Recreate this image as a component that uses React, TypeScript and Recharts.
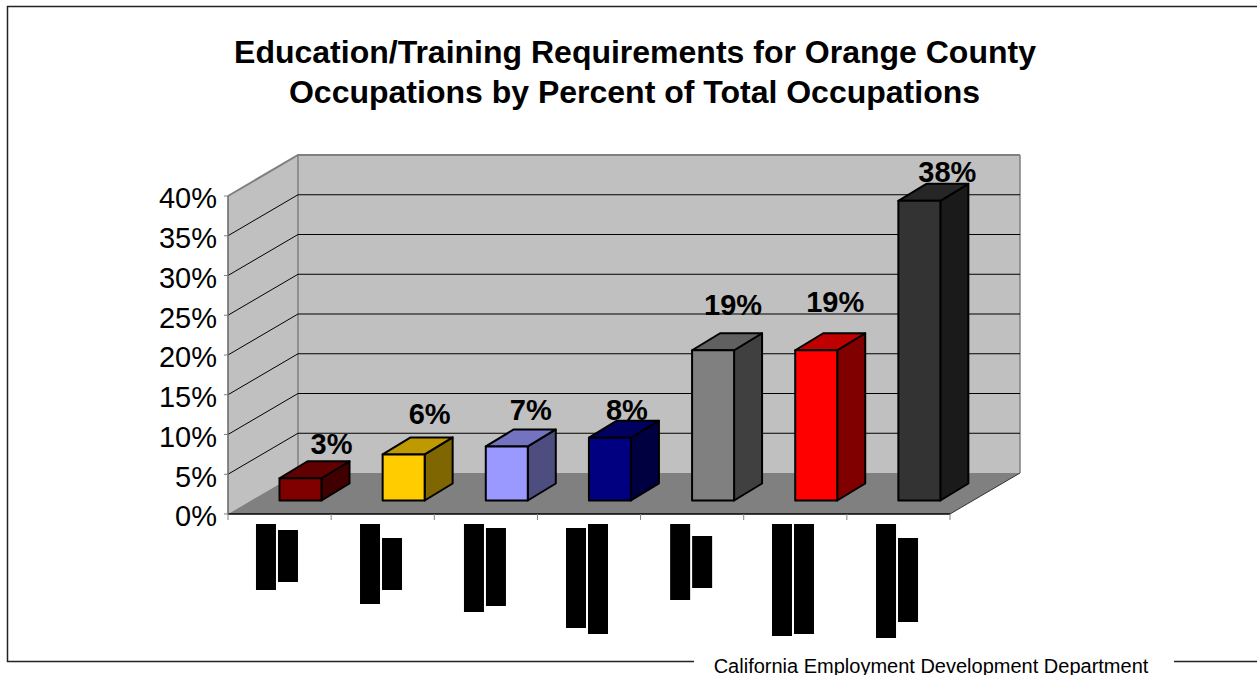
import { Bar, BarChart, CartesianGrid, LabelList, XAxis, YAxis } from 'recharts';

// garbled category labels in the source render as two black blocks each
const categories = ['c1', 'c2', 'c3', 'c4', 'c5', 'c6', 'c7'];
const percents = [2.8, 5.8, 6.8, 7.9, 18.9, 18.9, 37.7];
const yTicks = [0, 5, 10, 15, 20, 25, 30, 35, 40];

const blockA = [[10, 76], [10, 90], [10, 98], [14, 114], [10, 86], [10, 122], [10, 124]];
const blockB = [[16, 68], [24, 76], [14, 92], [10, 120], [22, 74], [10, 120], [24, 108]];
const blockLeft = [-23.6, -22.7, -21.9, -23, -22, -23.3, -22.4];

const frontColors = ['#800000', '#ffcc00', '#9999ff', '#000080', '#808080', '#ff0000', '#333333'];
const topColors = ['#600000', '#bf9900', '#7373bf', '#000060', '#606060', '#bf0000', '#262626'];
const sideColors = ['#400000', '#806600', '#4d4d80', '#000040', '#404040', '#800000', '#1a1a1a'];

// where each value label sits relative to the bar's front face
const labelNudge = [[31, -24], [26, -30], [24, -26], [17, -18], [20, -35], [19, -38], [28, -19]];

const data = categories.map((name, i) => ({ name, pct: percents[i] }));

const FONT = 'Arial, "Liberation Sans", sans-serif';
const PLOT_LEFT = 228;
const PLOT_RIGHT = 950;
const PLOT_TOP = 196;
const PLOT_BOTTOM = 514;
const WALL_DX = 70;
const WALL_DY = 41;
const BAND = (PLOT_RIGHT - PLOT_LEFT) / categories.length;
const BAR_DX = 20.5;
const BAR_DY = -13.5;
const DEPTH_X = 28;
const DEPTH_Y = 17;

function Box3D(props: any) {
  const { x, y, width, height, index } = props;
  const l = x + BAR_DX;
  const r = l + width;
  const t = y + BAR_DY;
  const b = t + height;
  return (
    <g stroke="#000" strokeWidth={2} strokeLinejoin="round">
      <polygon
        points={`${r},${t} ${r + DEPTH_X},${t - DEPTH_Y} ${r + DEPTH_X},${b - DEPTH_Y} ${r},${b}`}
        fill={sideColors[index]}
      />
      <polygon
        points={`${l},${t} ${l + DEPTH_X},${t - DEPTH_Y} ${r + DEPTH_X},${t - DEPTH_Y} ${r},${t}`}
        fill={topColors[index]}
      />
      <rect x={l} y={t} width={width} height={height} fill={frontColors[index]} />
    </g>
  );
}

function ValueLabel(props: any) {
  const { x, y, width, value, index } = props;
  const [dx, dy] = labelNudge[index];
  return (
    <text
      x={x + width / 2 + BAR_DX + dx}
      y={y + BAR_DY + dy}
      textAnchor="middle"
      fontFamily={FONT}
      fontWeight="bold"
      fontSize={29}
      fill="#000"
    >
      {Math.round(value)}%
    </text>
  );
}

function CategoryTick(props: any) {
  const { x, y, index } = props;
  const left = x + blockLeft[index];
  const [aStart, aEnd] = blockA[index];
  const [bStart, bEnd] = blockB[index];
  const tickX = x - BAND / 2;
  return (
    <g>
      <line x1={tickX} x2={tickX} y1={y} y2={y + 6} stroke="#808080" />
      {index === categories.length - 1 && (
        <line x1={tickX + BAND} x2={tickX + BAND} y1={y} y2={y + 6} stroke="#808080" />
      )}
      <rect x={left} y={y + aStart} width={20} height={aEnd - aStart} fill="#000" />
      <rect x={left + 22} y={y + bStart} width={20} height={bEnd - bStart} fill="#000" />
    </g>
  );
}

function Backdrop() {
  const backTop = PLOT_TOP - WALL_DY;
  const backBottom = PLOT_BOTTOM - WALL_DY;
  const backLeft = PLOT_LEFT + WALL_DX;
  const backRight = PLOT_RIGHT + WALL_DX;
  return (
    <g>
      <polygon
        points={`${PLOT_LEFT},${PLOT_TOP} ${backLeft},${backTop} ${backLeft},${backBottom} ${PLOT_LEFT},${PLOT_BOTTOM}`}
        fill="#c0c0c0"
      />
      <rect x={backLeft} y={backTop} width={backRight - backLeft} height={backBottom - backTop} fill="#c0c0c0" />
      <polygon
        points={`${PLOT_LEFT},${PLOT_BOTTOM} ${backLeft},${backBottom} ${backRight},${backBottom} ${PLOT_RIGHT},${PLOT_BOTTOM}`}
        fill="#808080"
      />
      <line x1={backLeft} x2={backLeft} y1={backTop} y2={backBottom} stroke="#808080" strokeWidth={1.5} />
      <line x1={backRight} x2={backRight} y1={backTop} y2={backBottom} stroke="#808080" strokeWidth={1.5} />
      <line x1={PLOT_RIGHT} x2={backRight} y1={PLOT_BOTTOM} y2={backBottom} stroke="#333" />
    </g>
  );
}

// the grid sits below plain svg children, so the walls are drawn from here too
function GridLine(props: any) {
  const { x1, y1, index } = props;
  const backY = y1 - WALL_DY;
  const isTop = Math.abs(y1 - PLOT_TOP) < 1;
  const isFloor = Math.abs(y1 - PLOT_BOTTOM) < 1;
  return (
    <g>
      {index === 0 && <Backdrop />}
      {!isFloor && (
        <polyline
          points={`${x1},${y1} ${x1 + WALL_DX},${backY} ${PLOT_RIGHT + WALL_DX},${backY}`}
          fill="none"
          stroke={isTop ? '#808080' : '#000'}
          strokeWidth={isTop ? 2 : 1}
        />
      )}
    </g>
  );
}

export default function App() {
  return (
    <div style={{ position: 'absolute', left: 0, top: 0, width: 1257, height: 675, background: '#fff' }}>
      <BarChart
        width={1257}
        height={675}
        data={data}
        margin={{ top: PLOT_TOP, right: 1257 - PLOT_RIGHT, bottom: 0, left: 0 }}
        barSize={42}
      >
        <path d="M1257 6.5H7.5V661.5H694M1174 661.5H1257" fill="none" stroke="#222" strokeWidth={1.5} />
        <text x={635} y={63} textAnchor="middle" fontFamily={FONT} fontWeight="bold" fontSize={32} fill="#000">
          Education/Training Requirements for Orange County
        </text>
        <text x={634.5} y={103} textAnchor="middle" fontFamily={FONT} fontWeight="bold" fontSize={32} fill="#000">
          Occupations by Percent of Total Occupations
        </text>
        <text x={931} y={673} textAnchor="middle" fontFamily={FONT} fontSize={20} fill="#000">
          California Employment Development Department
        </text>
        <CartesianGrid vertical={false} horizontal={GridLine} horizontalValues={yTicks} syncWithTicks={false} />
        <XAxis
          dataKey="name"
          interval={0}
          height={675 - PLOT_BOTTOM}
          tickSize={0}
          tickMargin={0}
          tickLine={false}
          tick={CategoryTick}
          axisLine={{ stroke: '#000', strokeWidth: 1.5 }}
        />
        <YAxis
          domain={[0, 40]}
          ticks={yTicks}
          interval={0}
          width={PLOT_LEFT}
          tickSize={4}
          tickMargin={7}
          tickFormatter={(v: number) => `${v}%`}
          tick={{ fontFamily: FONT, fontSize: 29, fill: '#000', dy: 2 }}
          tickLine={{ stroke: '#808080' }}
          axisLine={{ stroke: '#666', strokeWidth: 1.5 }}
        />
        <Bar dataKey="pct" isAnimationActive={false} shape={Box3D}>
          <LabelList dataKey="pct" content={ValueLabel} />
        </Bar>
      </BarChart>
    </div>
  );
}
